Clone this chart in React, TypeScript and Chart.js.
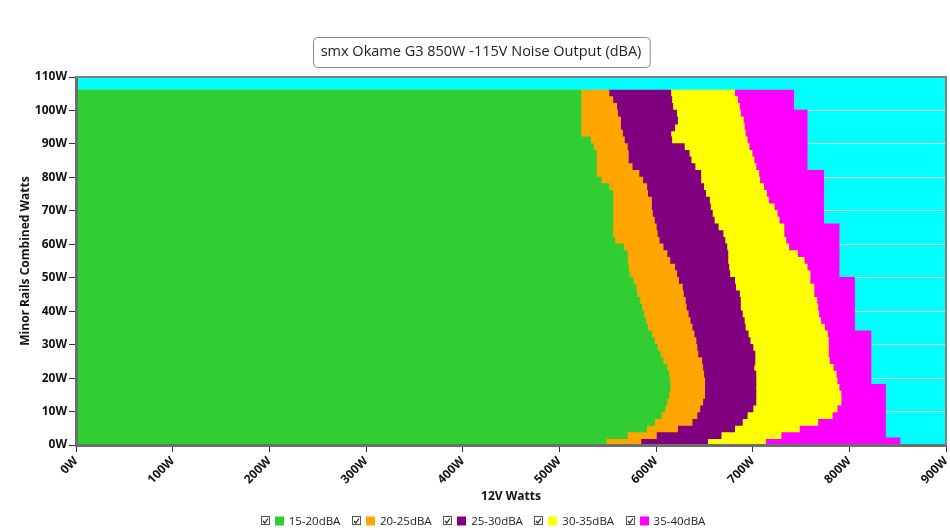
import { useEffect, useRef } from "react";
import { Chart, registerables } from "chart.js";

Chart.register(...registerables);

const chartTitle = "smx Okame G3 850W -115V Noise Output (dBA)";
const xAxisTitle = "12V Watts";
const yAxisTitle = "Minor Rails Combined Watts";

// Minor-rail load rows (centre of each 2W row)
const minorRows = [1, 3, 5, 7, 9, 11, 13, 15, 17, 19, 21, 23, 25, 27, 29, 31, 33, 35, 37, 39, 41, 43, 45, 47, 49, 51, 53, 55, 57, 59, 61, 63, 65, 67, 69, 71, 73, 75, 77, 79, 81, 83, 85, 87, 89, 91, 93, 95, 97, 99, 101, 103, 105];

// 12V watts where each noise band ends, per row
const greenEnd = [548, 570, 590, 598, 605, 609, 611, 613, 614, 614, 613, 611, 607, 604, 601, 598, 595, 591, 589, 587, 585, 583, 580, 579, 576, 572, 571, 570, 570, 566, 557, 555, 555, 555, 555, 555, 555, 555, 551, 543, 538, 538, 538, 538, 535, 532, 522, 522, 522, 522, 522, 522, 522];
const orangeEnd = [584, 600, 622, 637, 642, 645, 648, 650, 650, 650, 649, 648, 647, 643, 642, 641, 639, 637, 635, 633, 631, 630, 628, 627, 623, 621, 619, 614, 611, 607, 603, 601, 600, 598, 596, 595, 595, 591, 590, 586, 582, 575, 571, 571, 570, 567, 565, 563, 563, 560, 559, 555, 551];
const purpleEnd = [653, 667, 681, 689, 694, 700, 703, 703, 703, 703, 703, 701, 702, 702, 700, 697, 695, 692, 691, 689, 687, 687, 686, 682, 681, 676, 675, 674, 674, 673, 671, 669, 664, 660, 658, 656, 655, 651, 649, 646, 646, 640, 636, 634, 629, 616, 615, 619, 622, 621, 617, 616, 615];
const yellowEnd = [713, 729, 748, 767, 782, 787, 791, 791, 789, 787, 786, 783, 779, 778, 778, 778, 777, 774, 770, 768, 767, 766, 763, 763, 759, 759, 756, 753, 746, 737, 734, 732, 732, 727, 725, 722, 716, 714, 711, 707, 706, 703, 701, 699, 696, 694, 692, 691, 690, 687, 686, 684, 681];
const magentaEnd = [852, 837, 837, 837, 837, 837, 837, 837, 837, 822, 822, 822, 822, 822, 822, 822, 822, 805, 805, 805, 805, 805, 805, 805, 805, 789, 789, 789, 789, 789, 789, 789, 789, 773, 773, 773, 773, 773, 773, 773, 773, 756, 756, 756, 756, 756, 756, 756, 756, 756, 742, 742, 742];

const bandLabels = ["15-20dBA", "20-25dBA", "25-30dBA", "30-35dBA", "35-40dBA"];
const bandColors = ["#32CD32", "#FFA500", "#800080", "#FFFF00", "#FF00FF"];
const backgroundColor = "#00FFFF";

const xMin = 0;
const xMax = 900;
const xStep = 100;
const yMin = 0;
const yMax = 110;
const yStep = 10;

const FONT = '"Open Sans", "Noto Sans", sans-serif';

const decorPlugin = {
  id: "decor",
  beforeDraw(chart: any) {
    const { ctx, chartArea: a } = chart;
    ctx.save();
    ctx.fillStyle = backgroundColor;
    ctx.fillRect(a.left, a.top, a.right - a.left, a.bottom - a.top);
    ctx.restore();
  },
  afterDraw(chart: any) {
    const { ctx, chartArea: a } = chart;
    ctx.save();
    // top and right frame
    ctx.strokeStyle = "#808080";
    ctx.lineWidth = 2;
    ctx.beginPath();
    ctx.moveTo(a.left, a.top);
    ctx.lineTo(a.right, a.top);
    ctx.lineTo(a.right, a.bottom);
    ctx.stroke();

    // title with rounded box
    ctx.font = `14.5px ${FONT}`;
    ctx.fillStyle = "#222";
    ctx.textAlign = "center";
    ctx.textBaseline = "middle";
    const tcx = 481;
    const tcy = 52;
    ctx.fillText(chartTitle, tcx, tcy);
    const tw = ctx.measureText(chartTitle).width;
    const bw = tw + 16;
    const bh = 30;
    const bx = Math.round(tcx - bw / 2) + 0.5;
    const by = 37.5;
    ctx.strokeStyle = "#8c8c8c";
    ctx.lineWidth = 1;
    ctx.beginPath();
    ctx.roundRect(bx, by, bw, bh, 4);
    ctx.stroke();

    // legend
    ctx.font = `11.5px ${FONT}`;
    ctx.textAlign = "left";
    const cb = 8;
    const gap1 = 6;
    const gap2 = 5;
    const itemGap = 12.5;
    const widths = bandLabels.map((l) => cb + gap1 + cb + gap2 + ctx.measureText(l).width);
    const total = widths.reduce((s, w) => s + w, 0) + itemGap * (bandLabels.length - 1);
    let x = 482.5 - total / 2;
    const ly = 521;
    bandLabels.forEach((label, i) => {
      // checkbox
      ctx.strokeStyle = "#555";
      ctx.lineWidth = 1;
      ctx.fillStyle = "#fff";
      ctx.fillRect(Math.round(x) + 0.5, ly - cb / 2 - 0.5, cb, cb);
      ctx.strokeRect(Math.round(x) + 0.5, ly - cb / 2 - 0.5, cb, cb);
      ctx.strokeStyle = "#222";
      ctx.lineWidth = 1.2;
      ctx.beginPath();
      ctx.moveTo(Math.round(x) + 2, ly);
      ctx.lineTo(Math.round(x) + 3.8, ly + 2);
      ctx.lineTo(Math.round(x) + 7, ly - 2.5);
      ctx.stroke();
      // colour box
      const bx2 = x + cb + gap1;
      ctx.fillStyle = bandColors[i];
      ctx.fillRect(Math.round(bx2), ly - 4.5, 9, 9);
      // text
      ctx.fillStyle = "#222";
      ctx.fillText(label, bx2 + cb + gap2 + 1, ly + 0.5);
      x += widths[i] + itemGap;
    });
    ctx.restore();
  },
};

export default function App() {
  const canvasRef = useRef<HTMLCanvasElement | null>(null);

  useEffect(() => {
    document.body.style.margin = "0";
    const canvas = canvasRef.current;
    if (!canvas) return;

    const ends = [greenEnd, orangeEnd, purpleEnd, yellowEnd, magentaEnd];
    const datasets = bandLabels.map((label, i) => ({
      label,
      data: minorRows.map((row, j) => ({
        y: row,
        x: [i === 0 ? 0 : ends[i - 1][j], ends[i][j]],
      })),
      backgroundColor: bandColors[i],
      borderWidth: 0,
      inflateAmount: 0.7,
      grouped: false,
      barPercentage: 1,
      categoryPercentage: 1,
    }));

    const tickFont = { family: FONT, size: 12, weight: "bold" as const };

    const chart = new Chart(canvas, {
      type: "bar",
      data: { datasets: datasets as any },
      plugins: [decorPlugin],
      options: {
        indexAxis: "y",
        responsive: false,
        animation: false,
        events: [],
        layout: { padding: { top: 77, left: 0, right: 4, bottom: 26 } },
        plugins: {
          legend: { display: false },
          title: { display: false },
          tooltip: { enabled: false },
        },
        scales: {
          x: {
            type: "linear",
            min: xMin,
            max: xMax,
            offset: false,
            ticks: {
              stepSize: xStep,
              minRotation: 45,
              maxRotation: 45,
              padding: 2,
              color: "#111",
              font: tickFont,
              callback: (v: any) => `${v}W`,
            },
            grid: {
              drawOnChartArea: false,
              drawTicks: true,
              tickLength: 7,
              tickColor: "#333",
              offset: false,
            },
            border: { display: true, color: "#6e6e6e", width: 3, z: 1 },
            title: {
              display: true,
              text: xAxisTitle,
              color: "#111",
              font: tickFont,
              padding: { top: 0, bottom: 0 },
            },
            afterFit: (scale: any) => {
              scale.height = 59;
              scale.paddingLeft = 0;
              scale.paddingRight = 0;
            },
          },
          y: {
            type: "linear",
            min: yMin,
            max: yMax,
            offset: false,
            ticks: {
              stepSize: yStep,
              padding: 2,
              color: "#111",
              font: tickFont,
              callback: (v: any) => `${v}W`,
            },
            grid: {
              color: "#dcdcdc",
              lineWidth: 1,
              tickLength: 7,
              tickColor: "#333",
              offset: false,
            },
            border: { display: true, color: "#6e6e6e", width: 3, z: 1 },
            title: {
              display: true,
              text: yAxisTitle,
              color: "#111",
              font: tickFont,
              padding: { top: 18, bottom: 0 },
            },
            afterFit: (scale: any) => {
              scale.width = 76;
              scale.paddingTop = 0;
              scale.paddingBottom = 0;
            },
          },
        },
      } as any,
    });

    return () => {
      chart.destroy();
    };
  }, []);

  return (
    <div style={{ width: 950, height: 530, position: "relative", background: "#fff" }}>
      <canvas ref={canvasRef} width={950} height={530} style={{ width: 950, height: 530, display: "block" }} />
    </div>
  );
}
